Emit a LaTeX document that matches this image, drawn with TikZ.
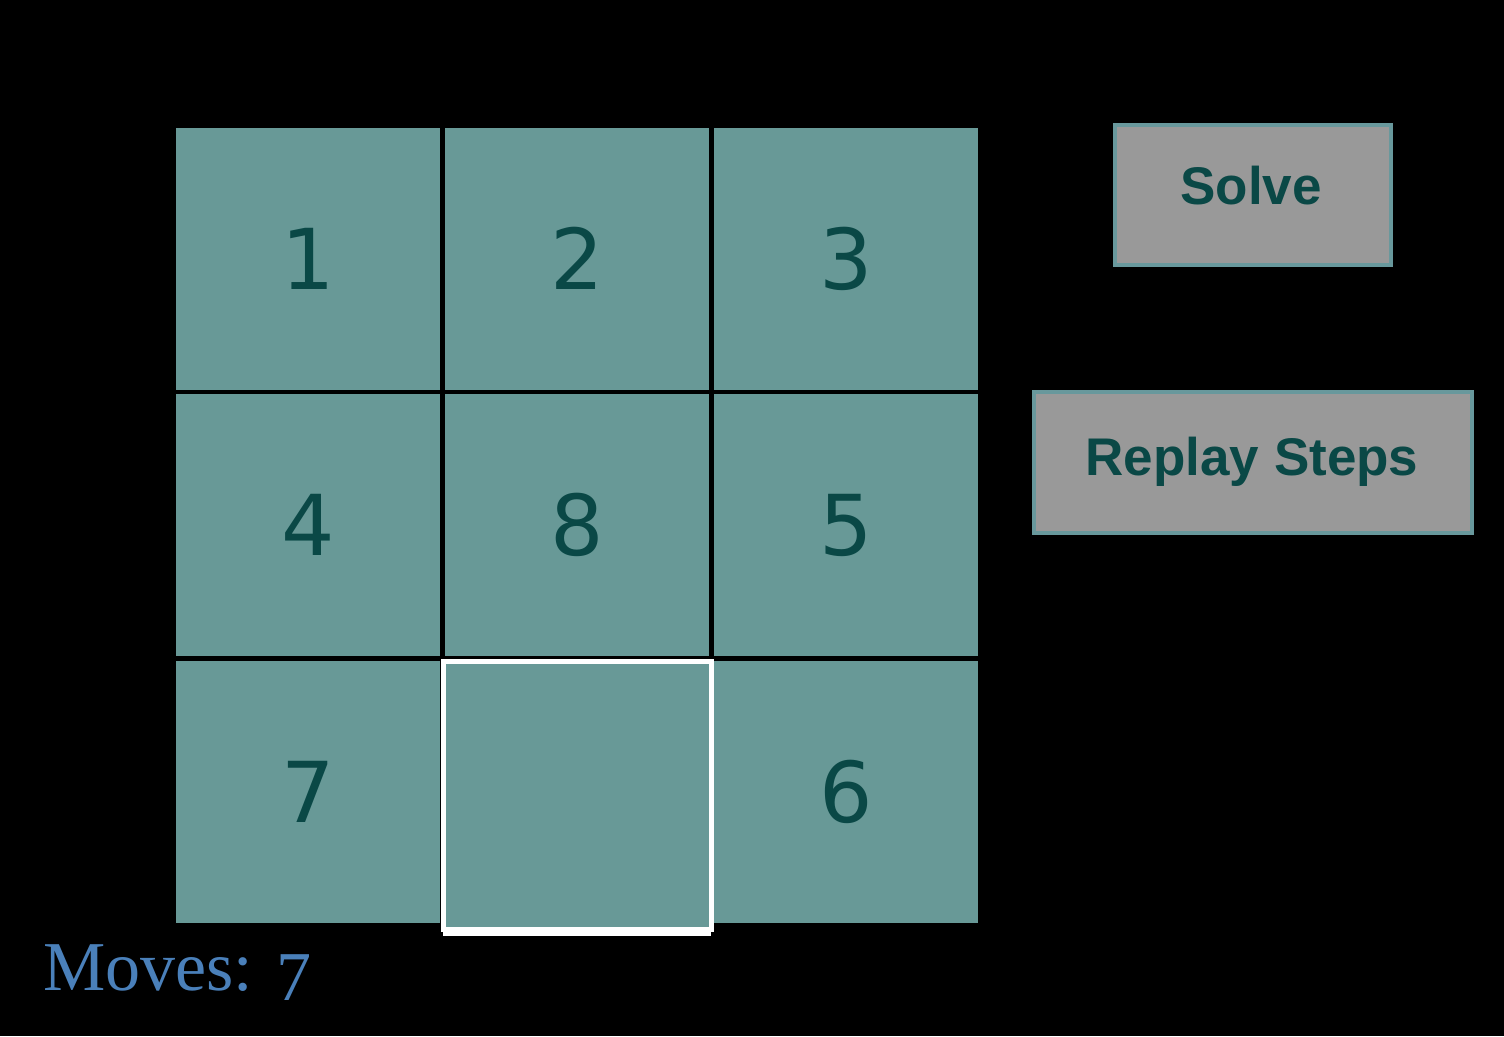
\documentclass[tikz,border=0pt]{standalone}
\usepackage{fontspec}
\newfontfamily\tilefont{DejaVu Sans}
\newfontfamily\btnfont{Liberation Sans}
\newfontfamily\movesfont{Liberation Serif}
\definecolor{tileteal}{RGB}{104,153,151}
\definecolor{tiletext}{RGB}{10,72,70}
\definecolor{btngray}{RGB}{153,153,153}
\definecolor{btnborder}{RGB}{104,152,156}
\definecolor{movesblue}{RGB}{74,128,186}
\begin{document}
\begin{tikzpicture}[x=1pt,y=-1pt,
  tile/.style={fill=tileteal, inner sep=0pt, outer sep=0pt,
    minimum width=264pt, minimum height=262pt, text=tiletext,
    font=\tilefont\fontsize{84}{90}\selectfont},
  blanktile/.style={tile, draw=white, line width=5pt,
    minimum width=268pt, minimum height=268pt},
  btn/.style={fill=btngray, draw=btnborder, line width=4pt, inner sep=0pt},
  btntext/.style={text=tiletext, inner sep=0pt,
    font=\btnfont\bfseries\fontsize{53}{60}\selectfont},
  movestext/.style={text=movesblue, inner sep=0pt,
    font=\movesfont\fontsize{70}{80}\selectfont}]
\fill[black] (0,0) rectangle (1504,1036);
\useasboundingbox (0,0) rectangle (1504,1036);
% tiles
\node[tile] (t1) at (308,258.5) {1};
\node[tile] (t2) at (577,258.5) {2};
\node[tile] (t3) at (846,258.5) {3};
\node[tile] (t4) at (308,525) {4};
\node[tile] (t8) at (577,525) {8};
\node[tile] (t5) at (846,525) {5};
\node[tile] (t7) at (308,791.5) {7};
\node[tile] (t6) at (846,791.5) {6};
\node[blanktile] (blank) at (577,795) {};
\draw[white, line width=9pt] ([yshift=-2pt]blank.south west) -- ([yshift=-2pt]blank.south east);
% buttons
\node[btn, minimum width=276pt, minimum height=140pt] (solve) at (1252.5,194.5) {};
\node[btntext, anchor=base] (solvetxt) at (1251,204) {Solve};
\node[btn, minimum width=438pt, minimum height=141pt] (replay) at (1252.5,462) {};
\node[btntext, anchor=base] (replaytxt) at (1252,475) {Replay Steps};
% moves counter
\node[movestext, anchor=base west] (moves) at (43,990) {Moves: \raisebox{-10pt}{7}};
\end{tikzpicture}
\end{document}
